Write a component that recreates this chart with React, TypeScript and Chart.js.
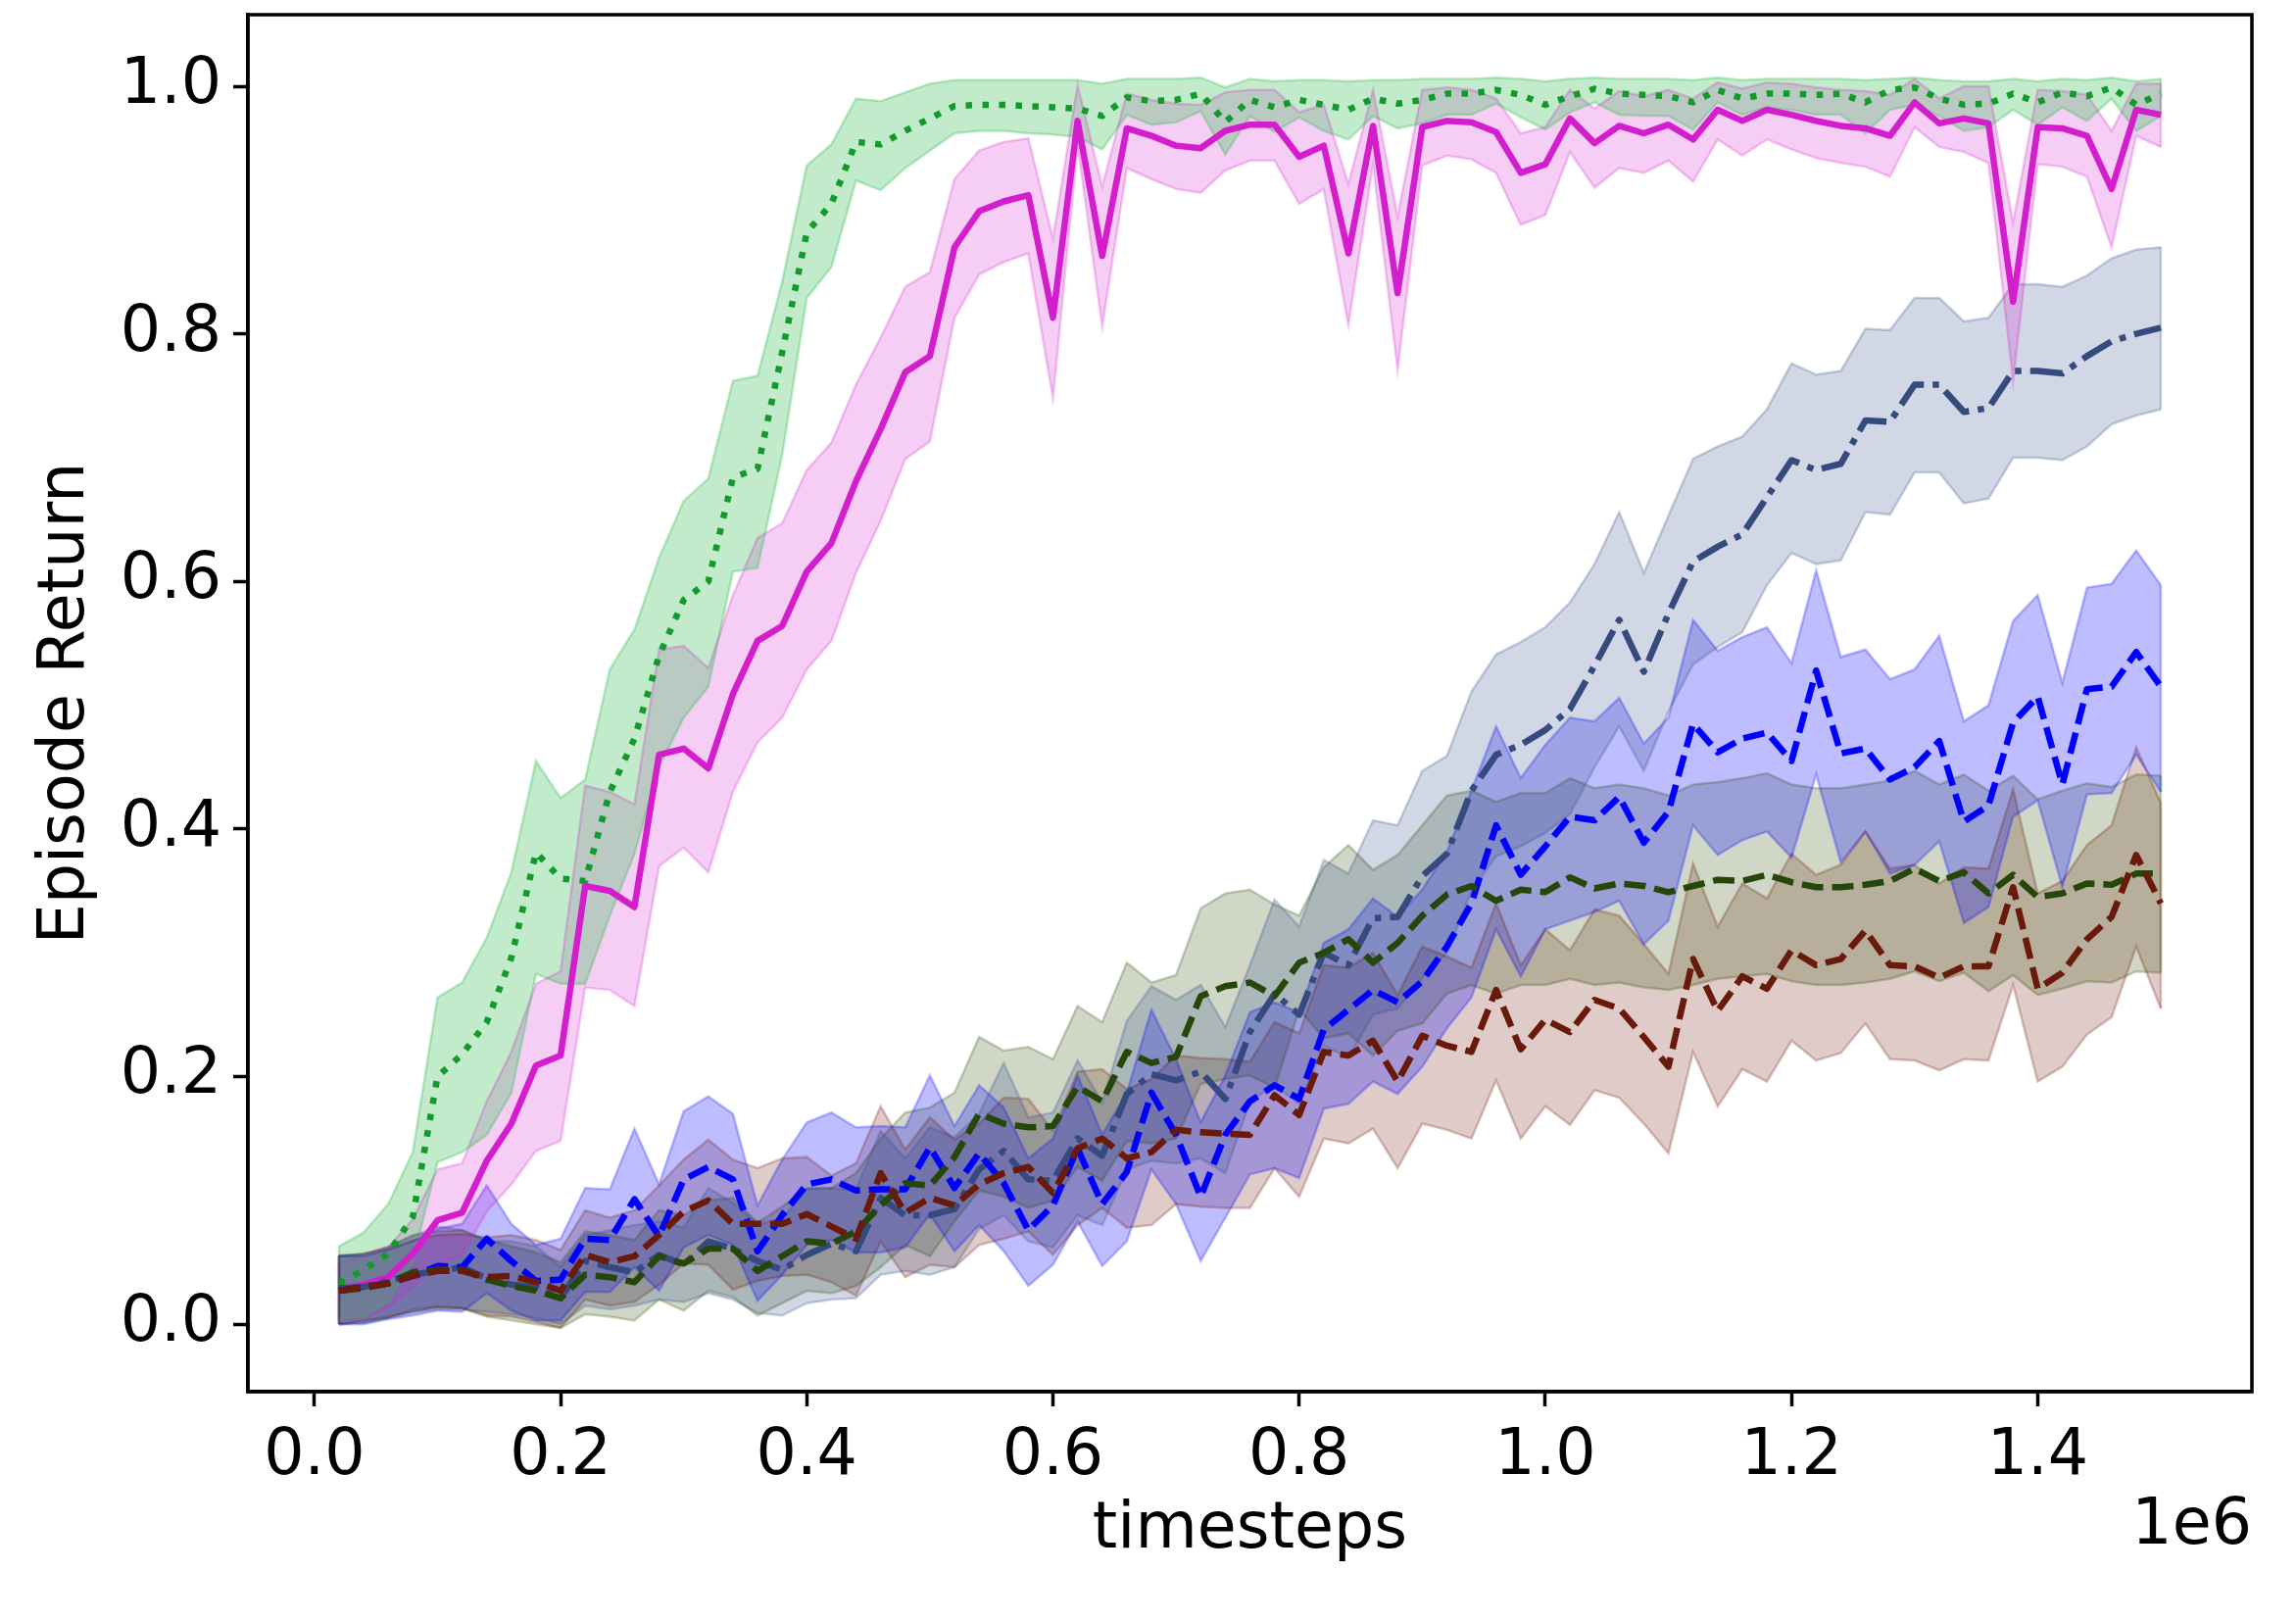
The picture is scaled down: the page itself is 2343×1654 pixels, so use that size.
import React, { useEffect, useRef } from 'react';
import { Chart, registerables } from 'chart.js';

Chart.register(...registerables);

// x values in units of 1e6 timesteps
const timesteps = [
  0.02, 0.04, 0.06, 0.08, 0.10, 0.12, 0.14, 0.16, 0.18, 0.20,
  0.22, 0.24, 0.26, 0.28, 0.30, 0.32, 0.34, 0.36, 0.38, 0.40,
  0.42, 0.44, 0.46, 0.48, 0.50, 0.52, 0.54, 0.56, 0.58, 0.60,
  0.62, 0.64, 0.66, 0.68, 0.70, 0.72, 0.74, 0.76, 0.78, 0.80,
  0.82, 0.84, 0.86, 0.88, 0.90, 0.92, 0.94, 0.96, 0.98, 1.00,
  1.02, 1.04, 1.06, 1.08, 1.10, 1.12, 1.14, 1.16, 1.18, 1.20,
  1.22, 1.24, 1.26, 1.28, 1.30, 1.32, 1.34, 1.36, 1.38, 1.40,
  1.42, 1.44, 1.46, 1.48, 1.50,
];

const xTicks = [0.0, 0.2, 0.4, 0.6, 0.8, 1.0, 1.2, 1.4];
const yTicks = [0.0, 0.2, 0.4, 0.6, 0.8, 1.0];

// green dotted
const greenMean = [
  0.033, 0.044, 0.057, 0.087, 0.200, 0.218, 0.244, 0.296, 0.381, 0.360,
  0.358, 0.430, 0.473, 0.540, 0.585, 0.600, 0.684, 0.691, 0.785, 0.882,
  0.905, 0.955, 0.953, 0.964, 0.974, 0.984, 0.985, 0.985, 0.984, 0.983,
  0.982, 0.976, 0.991, 0.988, 0.989, 0.994, 0.971, 0.989, 0.983, 0.989,
  0.985, 0.981, 0.990, 0.986, 0.989, 0.994, 0.994, 0.997, 0.993, 0.985,
  0.992, 0.998, 0.994, 0.993, 0.992, 0.987, 0.997, 0.990, 0.994, 0.994,
  0.993, 0.994, 0.987, 0.997, 0.999, 0.990, 0.985, 0.986, 0.994, 0.987,
  0.995, 0.992, 0.999, 0.985, 0.994,
];
const greenLo = [
  0.004, 0.006, 0.018, 0.052, 0.131, 0.139, 0.153, 0.187, 0.283, 0.275,
  0.275, 0.330, 0.380, 0.450, 0.490, 0.515, 0.608, 0.611, 0.702, 0.829,
  0.854, 0.924, 0.916, 0.934, 0.948, 0.962, 0.964, 0.964, 0.962, 0.961,
  0.959, 0.949, 0.977, 0.969, 0.971, 0.980, 0.945, 0.976, 0.963, 0.975,
  0.964, 0.957, 0.976, 0.966, 0.970, 0.977, 0.977, 0.986, 0.975, 0.965,
  0.979, 0.987, 0.977, 0.976, 0.976, 0.965, 0.987, 0.977, 0.983, 0.981,
  0.977, 0.977, 0.962, 0.981, 0.985, 0.976, 0.964, 0.967, 0.981, 0.969,
  0.983, 0.972, 0.990, 0.964, 0.976,
];
const greenHi = [
  0.063, 0.074, 0.097, 0.139, 0.264, 0.276, 0.312, 0.365, 0.455, 0.425,
  0.440, 0.529, 0.561, 0.619, 0.665, 0.683, 0.762, 0.766, 0.842, 0.936,
  0.953, 0.990, 0.988, 0.995, 1.002, 1.005, 1.005, 1.005, 1.005, 1.005,
  1.005, 1.002, 1.006, 1.006, 1.006, 1.007, 0.999, 1.006, 1.004, 1.005,
  1.005, 1.004, 1.005, 1.005, 1.006, 1.006, 1.006, 1.007, 1.006, 1.004,
  1.006, 1.007, 1.006, 1.006, 1.006, 1.005, 1.007, 1.005, 1.006, 1.006,
  1.006, 1.006, 1.005, 1.006, 1.007, 1.005, 1.004, 1.004, 1.006, 1.004,
  1.006, 1.005, 1.007, 1.004, 1.006,
];

// magenta solid
const magentaMean = [
  0.028, 0.032, 0.038, 0.057, 0.084, 0.090, 0.132, 0.162, 0.209, 0.217,
  0.354, 0.350, 0.337, 0.460, 0.465, 0.449, 0.509, 0.552, 0.564, 0.608,
  0.631, 0.681, 0.723, 0.769, 0.782, 0.870, 0.899, 0.907, 0.912, 0.813,
  0.972, 0.863, 0.966, 0.960, 0.952, 0.950, 0.964, 0.969, 0.969, 0.943,
  0.952, 0.865, 0.968, 0.833, 0.967, 0.972, 0.971, 0.963, 0.930, 0.937,
  0.974, 0.954, 0.968, 0.962, 0.969, 0.957, 0.981, 0.972, 0.981, 0.977,
  0.972, 0.968, 0.966, 0.960, 0.987, 0.970, 0.974, 0.970, 0.826, 0.967,
  0.966, 0.960, 0.917, 0.981, 0.977,
];
const magentaLo = [
  0.003, 0.005, 0.014, 0.030, 0.048, 0.056, 0.091, 0.113, 0.140, 0.148,
  0.272, 0.270, 0.257, 0.370, 0.385, 0.365, 0.430, 0.470, 0.490, 0.529,
  0.552, 0.607, 0.649, 0.699, 0.713, 0.813, 0.848, 0.858, 0.865, 0.748,
  0.953, 0.806, 0.934, 0.925, 0.917, 0.914, 0.932, 0.940, 0.940, 0.905,
  0.917, 0.807, 0.937, 0.771, 0.936, 0.944, 0.941, 0.930, 0.888, 0.896,
  0.947, 0.918, 0.934, 0.930, 0.940, 0.923, 0.957, 0.944, 0.957, 0.949,
  0.942, 0.938, 0.935, 0.927, 0.967, 0.951, 0.947, 0.938, 0.762, 0.937,
  0.935, 0.927, 0.870, 0.960, 0.951,
];
const magentaHi = [
  0.050, 0.055, 0.062, 0.085, 0.125, 0.130, 0.180, 0.220, 0.275, 0.285,
  0.435, 0.430, 0.420, 0.545, 0.548, 0.530, 0.589, 0.635, 0.647, 0.690,
  0.712, 0.759, 0.797, 0.838, 0.850, 0.925, 0.948, 0.955, 0.958, 0.877,
  1.001, 0.919, 0.994, 0.989, 0.986, 0.985, 0.995, 0.997, 0.997, 0.979,
  0.985, 0.921, 0.997, 0.895, 0.997, 0.999, 0.997, 0.990, 0.962, 0.967,
  0.997, 0.982, 0.996, 0.992, 0.997, 0.990, 1.003, 0.998, 1.003, 1.002,
  0.999, 0.997, 0.996, 0.993, 1.006, 0.990, 1.000, 1.000, 0.890, 0.997,
  0.996, 0.993, 0.964, 1.002, 1.002,
];

// navy dash-dot
const navyMean = [
  0.029, 0.030, 0.035, 0.040, 0.043, 0.046, 0.037, 0.032, 0.030, 0.021,
  0.051, 0.046, 0.042, 0.056, 0.048, 0.067, 0.061, 0.051, 0.044, 0.056,
  0.065, 0.059, 0.102, 0.088, 0.088, 0.093, 0.125, 0.140, 0.117, 0.116,
  0.150, 0.136, 0.186, 0.202, 0.197, 0.204, 0.182, 0.236, 0.267, 0.250,
  0.300, 0.290, 0.328, 0.329, 0.362, 0.380, 0.431, 0.460, 0.468, 0.480,
  0.497, 0.532, 0.569, 0.527, 0.574, 0.616, 0.628, 0.638, 0.668, 0.698,
  0.690, 0.695, 0.730, 0.729, 0.759, 0.759, 0.737, 0.740, 0.770, 0.770,
  0.768, 0.782, 0.794, 0.800, 0.805,
];
const navyLo = [
  0.000, 0.001, 0.005, 0.010, 0.012, 0.012, 0.010, 0.008, 0.005, 0.000,
  0.015, 0.012, 0.015, 0.020, 0.018, 0.025, 0.020, 0.009, 0.007, 0.017,
  0.020, 0.021, 0.040, 0.043, 0.040, 0.046, 0.077, 0.088, 0.067, 0.062,
  0.088, 0.080, 0.125, 0.132, 0.130, 0.134, 0.122, 0.180, 0.193, 0.178,
  0.225, 0.215, 0.250, 0.255, 0.280, 0.300, 0.350, 0.378, 0.386, 0.397,
  0.412, 0.450, 0.483, 0.447, 0.495, 0.533, 0.547, 0.559, 0.597, 0.623,
  0.614, 0.617, 0.656, 0.654, 0.688, 0.688, 0.663, 0.667, 0.700, 0.700,
  0.698, 0.709, 0.727, 0.734, 0.739,
];
const navyHi = [
  0.056, 0.056, 0.063, 0.071, 0.079, 0.076, 0.067, 0.067, 0.063, 0.046,
  0.072, 0.076, 0.080, 0.083, 0.078, 0.110, 0.098, 0.081, 0.085, 0.109,
  0.110, 0.109, 0.156, 0.134, 0.159, 0.151, 0.170, 0.211, 0.167, 0.171,
  0.213, 0.179, 0.245, 0.273, 0.262, 0.274, 0.240, 0.290, 0.343, 0.321,
  0.375, 0.364, 0.407, 0.403, 0.447, 0.459, 0.511, 0.541, 0.551, 0.563,
  0.583, 0.614, 0.656, 0.607, 0.653, 0.699, 0.709, 0.717, 0.739, 0.776,
  0.767, 0.770, 0.804, 0.803, 0.829, 0.829, 0.810, 0.813, 0.840, 0.840,
  0.838, 0.847, 0.861, 0.868, 0.870,
];

// blue dashed
const blueMean = [
  0.027, 0.030, 0.033, 0.039, 0.047, 0.046, 0.069, 0.051, 0.035, 0.036,
  0.069, 0.068, 0.101, 0.071, 0.117, 0.127, 0.117, 0.059, 0.088, 0.113,
  0.117, 0.108, 0.109, 0.109, 0.143, 0.110, 0.138, 0.114, 0.076, 0.096,
  0.142, 0.097, 0.123, 0.187, 0.153, 0.103, 0.153, 0.180, 0.193, 0.182,
  0.238, 0.254, 0.270, 0.260, 0.277, 0.305, 0.340, 0.403, 0.363, 0.386,
  0.410, 0.407, 0.426, 0.389, 0.414, 0.485, 0.462, 0.473, 0.478, 0.455,
  0.528, 0.461, 0.465, 0.440, 0.450, 0.471, 0.406, 0.419, 0.486, 0.507,
  0.436, 0.513, 0.515, 0.543, 0.515,
];
const blueLo = [
  0.000, 0.000, 0.004, 0.007, 0.011, 0.010, 0.025, 0.011, 0.003, 0.003,
  0.026, 0.026, 0.046, 0.027, 0.062, 0.072, 0.064, 0.019, 0.040, 0.064,
  0.068, 0.058, 0.058, 0.062, 0.089, 0.059, 0.080, 0.059, 0.031, 0.048,
  0.083, 0.047, 0.067, 0.125, 0.097, 0.051, 0.086, 0.121, 0.126, 0.118,
  0.174, 0.178, 0.196, 0.186, 0.208, 0.239, 0.264, 0.319, 0.281, 0.319,
  0.326, 0.333, 0.342, 0.307, 0.326, 0.403, 0.379, 0.391, 0.398, 0.377,
  0.444, 0.373, 0.398, 0.364, 0.371, 0.390, 0.324, 0.337, 0.410, 0.423,
  0.353, 0.428, 0.429, 0.460, 0.430,
];
const blueHi = [
  0.055, 0.055, 0.060, 0.067, 0.077, 0.081, 0.112, 0.081, 0.064, 0.069,
  0.110, 0.109, 0.158, 0.113, 0.172, 0.184, 0.170, 0.096, 0.133, 0.163,
  0.171, 0.159, 0.160, 0.159, 0.201, 0.160, 0.193, 0.175, 0.134, 0.150,
  0.201, 0.153, 0.187, 0.254, 0.214, 0.163, 0.201, 0.252, 0.260, 0.252,
  0.308, 0.319, 0.344, 0.329, 0.351, 0.382, 0.431, 0.483, 0.441, 0.468,
  0.490, 0.487, 0.506, 0.469, 0.490, 0.569, 0.544, 0.555, 0.563, 0.534,
  0.609, 0.539, 0.545, 0.521, 0.529, 0.556, 0.487, 0.500, 0.568, 0.589,
  0.518, 0.595, 0.598, 0.625, 0.597,
];

// dark olive dashed
const oliveMean = [
  0.027, 0.029, 0.033, 0.042, 0.044, 0.044, 0.036, 0.031, 0.027, 0.021,
  0.040, 0.038, 0.034, 0.055, 0.049, 0.061, 0.061, 0.043, 0.055, 0.067,
  0.065, 0.075, 0.096, 0.114, 0.112, 0.135, 0.170, 0.162, 0.159, 0.160,
  0.192, 0.180, 0.220, 0.211, 0.216, 0.265, 0.273, 0.276, 0.265, 0.292,
  0.300, 0.311, 0.292, 0.308, 0.330, 0.347, 0.354, 0.342, 0.351, 0.349,
  0.361, 0.352, 0.356, 0.354, 0.349, 0.354, 0.359, 0.358, 0.363, 0.357,
  0.353, 0.353, 0.355, 0.358, 0.368, 0.358, 0.365, 0.348, 0.363, 0.345,
  0.348, 0.356, 0.355, 0.364, 0.364,
];
const oliveLo = [
  0.000, 0.002, 0.005, 0.012, 0.014, 0.013, 0.006, 0.003, 0.000, -0.003,
  0.008, 0.006, 0.003, 0.020, 0.011, 0.027, 0.022, 0.007, 0.017, 0.027,
  0.025, 0.031, 0.046, 0.064, 0.055, 0.083, 0.108, 0.103, 0.094, 0.100,
  0.127, 0.116, 0.148, 0.146, 0.150, 0.194, 0.198, 0.201, 0.191, 0.254,
  0.231, 0.235, 0.217, 0.237, 0.243, 0.267, 0.274, 0.267, 0.274, 0.274,
  0.279, 0.274, 0.276, 0.272, 0.270, 0.274, 0.279, 0.281, 0.283, 0.277,
  0.274, 0.274, 0.276, 0.279, 0.285, 0.277, 0.284, 0.269, 0.282, 0.266,
  0.271, 0.277, 0.276, 0.285, 0.284,
];
const oliveHi = [
  0.055, 0.057, 0.062, 0.072, 0.075, 0.076, 0.068, 0.063, 0.058, 0.050,
  0.075, 0.072, 0.068, 0.092, 0.088, 0.100, 0.102, 0.082, 0.095, 0.110,
  0.110, 0.122, 0.150, 0.171, 0.175, 0.187, 0.232, 0.221, 0.224, 0.214,
  0.257, 0.244, 0.292, 0.276, 0.282, 0.336, 0.348, 0.351, 0.339, 0.330,
  0.369, 0.387, 0.367, 0.379, 0.403, 0.427, 0.431, 0.422, 0.429, 0.429,
  0.441, 0.433, 0.436, 0.433, 0.427, 0.436, 0.438, 0.441, 0.445, 0.436,
  0.433, 0.433, 0.436, 0.439, 0.447, 0.436, 0.444, 0.431, 0.443, 0.424,
  0.431, 0.437, 0.434, 0.444, 0.443,
];

// dark red dashed
const redMean = [
  0.027, 0.030, 0.033, 0.039, 0.043, 0.043, 0.038, 0.039, 0.034, 0.027,
  0.056, 0.050, 0.055, 0.072, 0.091, 0.100, 0.081, 0.081, 0.081, 0.089,
  0.079, 0.069, 0.122, 0.090, 0.102, 0.096, 0.113, 0.122, 0.127, 0.106,
  0.142, 0.150, 0.134, 0.139, 0.157, 0.155, 0.154, 0.153, 0.185, 0.169,
  0.220, 0.217, 0.229, 0.196, 0.233, 0.225, 0.220, 0.270, 0.222, 0.246,
  0.236, 0.262, 0.255, 0.232, 0.208, 0.295, 0.253, 0.281, 0.271, 0.302,
  0.290, 0.295, 0.318, 0.290, 0.289, 0.280, 0.289, 0.289, 0.353, 0.271,
  0.284, 0.311, 0.329, 0.379, 0.340,
];
const redLo = [
  0.000, 0.003, 0.006, 0.010, 0.014, 0.013, 0.007, 0.006, 0.002, -0.003,
  0.020, 0.015, 0.018, 0.032, 0.049, 0.048, 0.028, 0.035, 0.039, 0.040,
  0.034, 0.023, 0.067, 0.038, 0.048, 0.046, 0.064, 0.069, 0.075, 0.056,
  0.080, 0.094, 0.078, 0.080, 0.097, 0.095, 0.094, 0.094, 0.126, 0.103,
  0.150, 0.146, 0.158, 0.126, 0.162, 0.157, 0.150, 0.197, 0.150, 0.176,
  0.161, 0.189, 0.183, 0.162, 0.138, 0.220, 0.176, 0.206, 0.196, 0.229,
  0.213, 0.219, 0.243, 0.214, 0.213, 0.205, 0.214, 0.213, 0.274, 0.196,
  0.208, 0.234, 0.248, 0.305, 0.255,
];
const redHi = [
  0.055, 0.057, 0.061, 0.068, 0.072, 0.073, 0.070, 0.072, 0.068, 0.060,
  0.092, 0.086, 0.092, 0.112, 0.133, 0.149, 0.133, 0.126, 0.134, 0.135,
  0.120, 0.130, 0.176, 0.141, 0.167, 0.149, 0.162, 0.183, 0.182, 0.156,
  0.204, 0.206, 0.190, 0.198, 0.217, 0.215, 0.214, 0.212, 0.244, 0.235,
  0.290, 0.288, 0.300, 0.266, 0.305, 0.297, 0.288, 0.340, 0.290, 0.319,
  0.302, 0.335, 0.330, 0.307, 0.283, 0.372, 0.321, 0.356, 0.344, 0.380,
  0.363, 0.371, 0.398, 0.368, 0.371, 0.356, 0.369, 0.368, 0.432, 0.348,
  0.358, 0.387, 0.403, 0.466, 0.421,
];

const FONT = 'DejaVu Sans';
const W = 2343;
const H = 1654;

type Series = {
  mean: number[];
  lo: number[];
  hi: number[];
  line: string;
  band: string;
  edge: string;
  dash: number[];
  order: number;
};

const seriesList: Series[] = [
  { mean: greenMean, lo: greenLo, hi: greenHi, line: '#129a2a', band: 'rgba(50,190,80,0.30)', edge: 'rgba(50,190,80,0.32)', dash: [6.5, 10.5], order: 5 },
  { mean: magentaMean, lo: magentaLo, hi: magentaHi, line: '#d41ecd', band: 'rgba(214,31,208,0.22)', edge: 'rgba(214,31,208,0.25)', dash: [], order: 4 },
  { mean: navyMean, lo: navyLo, hi: navyHi, line: '#354a7e', band: 'rgba(46,73,137,0.22)', edge: 'rgba(46,73,137,0.25)', dash: [34, 9, 6.5, 9], order: 3 },
  { mean: blueMean, lo: blueLo, hi: blueHi, line: '#0000ff', band: 'rgba(0,0,255,0.26)', edge: 'rgba(0,0,255,0.25)', dash: [22, 9], order: 2 },
  { mean: oliveMean, lo: oliveLo, hi: oliveHi, line: '#26470a', band: 'rgba(40,75,0,0.22)', edge: 'rgba(40,75,0,0.25)', dash: [22, 9], order: 1 },
  { mean: redMean, lo: redLo, hi: redHi, line: '#6a1a0a', band: 'rgba(110,20,0,0.22)', edge: 'rgba(110,20,0,0.25)', dash: [22, 9], order: 0 },
];

const framePlugin = {
  id: 'frameAndOffset',
  beforeDraw(chart: any) {
    const ctx = chart.ctx;
    ctx.save();
    ctx.fillStyle = '#ffffff';
    ctx.fillRect(0, 0, chart.width, chart.height);
    ctx.restore();
  },
  beforeDatasetsDraw(chart: any) {
    // closing vertical edges of each band polygon (as fill_between draws them)
    const { ctx, scales } = chart;
    const xs = scales.x;
    const ys = scales.y;
    const first = 0;
    const last = timesteps.length - 1;
    ctx.save();
    ctx.lineWidth = 2.5;
    seriesList.forEach((s) => {
      ctx.strokeStyle = s.edge;
      [first, last].forEach((i) => {
        const px = xs.getPixelForValue(timesteps[i]);
        ctx.beginPath();
        ctx.moveTo(px, ys.getPixelForValue(s.lo[i]));
        ctx.lineTo(px, ys.getPixelForValue(s.hi[i]));
        ctx.stroke();
      });
    });
    ctx.restore();
  },
  afterDraw(chart: any) {
    const { ctx, chartArea } = chart;
    const { left, right, top, bottom } = chartArea;
    ctx.save();
    ctx.strokeStyle = '#000000';
    ctx.lineWidth = 3.5;
    ctx.strokeRect(left, top, right - left, bottom - top);
    ctx.fillStyle = '#000000';
    ctx.font = `65px "${FONT}"`;
    ctx.textAlign = 'right';
    ctx.textBaseline = 'middle';
    ctx.fillText('1e6', right, 1558);
    ctx.restore();
  },
};

export default function App() {
  const ref = useRef<HTMLCanvasElement | null>(null);

  useEffect(() => {
    if (!ref.current) return;
    const pts = (arr: number[]) => timesteps.map((x, i) => ({ x, y: arr[i] }));
    const datasets: any[] = [];
    seriesList.forEach((s) => {
      datasets.push({
        data: pts(s.hi),
        borderColor: s.edge,
        borderWidth: 2.5,
        backgroundColor: s.band,
        fill: '+1',
        pointRadius: 0,
        tension: 0,
        order: 20,
      });
      datasets.push({
        data: pts(s.lo),
        borderColor: s.edge,
        borderWidth: 2.5,
        backgroundColor: s.band,
        fill: false,
        pointRadius: 0,
        tension: 0,
        order: 20,
      });
    });
    seriesList.forEach((s) => {
      datasets.push({
        data: pts(s.mean),
        borderColor: s.line,
        borderWidth: 6.5,
        borderDash: s.dash,
        borderCapStyle: 'butt',
        borderJoinStyle: 'round',
        fill: false,
        pointRadius: 0,
        tension: 0,
        order: s.order,
      });
    });

    const tickFont = { family: FONT, size: 65 };
    const chart = new Chart(ref.current, {
      type: 'line',
      data: { datasets },
      plugins: [framePlugin],
      options: {
        animation: false,
        responsive: false,
        devicePixelRatio: 1,
        layout: { padding: { left: 0, top: 15, right: 45, bottom: 0 } },
        plugins: {
          legend: { display: false },
          tooltip: { enabled: false },
          filler: { drawTime: 'beforeDatasetsDraw' },
        },
        scales: {
          x: {
            type: 'linear',
            min: -0.054,
            max: 1.574,
            afterBuildTicks: (scale: any) => {
              scale.ticks = xTicks.map((v) => ({ value: v }));
            },
            afterFit: (scale: any) => {
              scale.height = 234;
              scale.paddingLeft = 0;
              scale.paddingRight = 0;
            },
            ticks: {
              callback: (v: any) => Number(v).toFixed(1),
              font: tickFont,
              color: '#000000',
              padding: 13,
              maxRotation: 0,
              autoSkip: false,
            },
            grid: {
              drawOnChartArea: false,
              drawTicks: true,
              tickLength: 15,
              tickWidth: 3.5,
              tickColor: '#000000',
            },
            border: { display: true, color: '#000000', width: 3.5 },
            title: {
              display: true,
              text: 'timesteps',
              font: tickFont,
              color: '#000000',
              padding: { top: 0, bottom: 53 },
            },
          },
          y: {
            type: 'linear',
            min: -0.0545,
            max: 1.0578,
            afterBuildTicks: (scale: any) => {
              scale.ticks = yTicks.map((v) => ({ value: v }));
            },
            afterFit: (scale: any) => {
              scale.width = 253;
              scale.paddingTop = 0;
              scale.paddingBottom = 0;
            },
            ticks: {
              callback: (v: any) => Number(v).toFixed(1),
              font: tickFont,
              color: '#000000',
              padding: 12,
            },
            grid: {
              drawOnChartArea: false,
              drawTicks: true,
              tickLength: 15,
              tickWidth: 3.5,
              tickColor: '#000000',
            },
            border: { display: true, color: '#000000', width: 3.5 },
            title: {
              display: true,
              text: 'Episode Return',
              font: tickFont,
              color: '#000000',
              padding: { top: 29, bottom: 0 },
            },
          },
        },
      } as any,
    });
    return () => chart.destroy();
  }, []);

  return (
    <div style={{ position: 'fixed', left: 0, top: 0, width: W, height: H, background: '#ffffff' }}>
      <canvas ref={ref} width={W} height={H} style={{ width: W, height: H, display: 'block' }} />
    </div>
  );
}
